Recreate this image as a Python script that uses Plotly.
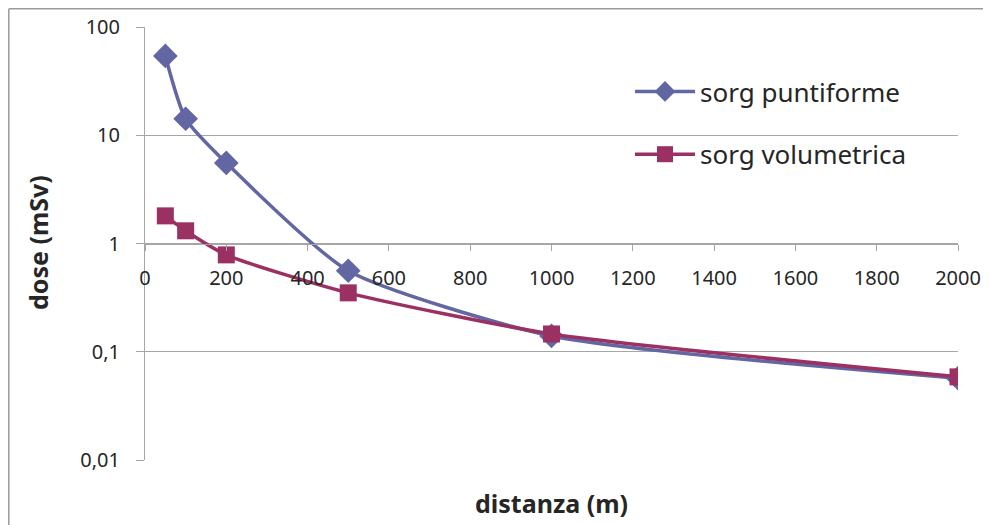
import plotly.graph_objects as go

distanza = [50, 100, 200, 500, 1000, 2000]
dose_puntiforme = [54, 14.2, 5.55, 0.56, 0.14, 0.057]
dose_volumetrica = [1.80, 1.31, 0.785, 0.35, 0.146, 0.0586]

y_tickvals = [0.01, 0.1, 1, 10, 100]
y_ticktext = ["0,01", "0,1", "1", "10", "100"]
x_tickvals = [0, 200, 400, 600, 800, 1000, 1200, 1400, 1600, 1800, 2000]

BLUE = "#6266A2"
RED = "#9B3063"
GRID = "#A6A6A6"
FONT = "Noto Sans"

# page body has an 8px margin; figure is placed at (8, 8)
PW, PH = 813, 433  # plot area in pixels

fig = go.Figure()
fig.add_trace(go.Scatter(
    x=distanza, y=dose_puntiforme, name="sorg puntiforme",
    mode="lines+markers", line=dict(color=BLUE, width=3.5, shape="spline", smoothing=0.6),
    marker=dict(symbol="diamond", size=19, color=BLUE), legendgroup="a"))
fig.add_trace(go.Scatter(
    x=distanza, y=dose_volumetrica, name="sorg volumetrica",
    mode="lines+markers", line=dict(color=RED, width=3.5, shape="spline", smoothing=0.6),
    marker=dict(symbol="square", size=17, color=RED), legendgroup="b"))

fig.update_layout(
    width=983, height=517,
    margin=dict(l=137, r=33, t=19, b=65, autoexpand=False),
    paper_bgcolor="white", plot_bgcolor="white",
    font=dict(family=FONT, size=20, color="#262626"),
    showlegend=True,
    legend=dict(x=(630 - 145) / PW, y=1 - (68 - 27) / PH, xanchor="left", yanchor="top",
                bgcolor="rgba(0,0,0,0)", font=dict(size=26, color="#262626"),
                tracegroupgap=26, itemwidth=60),
    xaxis=dict(range=[0, 2000], tickvals=x_tickvals, showgrid=False, zeroline=False,
               showline=True, linecolor=GRID, linewidth=1,
               ticks="outside", ticklen=6, tickcolor=GRID,
               anchor="free", position=0.5, ticklabelstandoff=10,
               tickfont=dict(size=20, color="#262626")),
    yaxis=dict(type="log", range=[-2, 2], tickvals=y_tickvals, ticktext=y_ticktext,
               showgrid=True, gridcolor=GRID, gridwidth=1,
               showline=True, linecolor=GRID, linewidth=1,
               ticks="outside", ticklen=8, tickcolor=GRID, ticklabelstandoff=12,
               tickfont=dict(size=20, color="#262626"), zeroline=False),
    annotations=[
        dict(text="<b>distanza (m)</b>", xref="paper", yref="paper",
             x=(551 - 145) / PW, y=-(503 - 460) / PH, xanchor="center", yanchor="middle",
             showarrow=False, font=dict(size=25, color="#262626", family=FONT)),
        dict(text="<b>dose (mSv)</b>", xref="paper", yref="paper",
             x=-(145 - 38) / PW, y=1 - (243 - 27) / PH, xanchor="center", yanchor="middle",
             textangle=-90, showarrow=False, font=dict(size=25, color="#262626", family=FONT)),
    ],
    shapes=[
        dict(type="line", xref="paper", yref="paper", x0=-(145 - 8.8) / PW, x1=1.2,
             y0=1 + (27 - 8.8) / PH, y1=1 + (27 - 8.8) / PH, line=dict(color="#9A9A9A", width=1.5)),
        dict(type="line", xref="paper", yref="paper", x0=-(145 - 8.8) / PW, x1=-(145 - 8.8) / PW,
             y0=1 + (27 - 8.8) / PH, y1=-0.3, line=dict(color="#9A9A9A", width=1.5)),
    ],
)

fig.write_html("out.html")
